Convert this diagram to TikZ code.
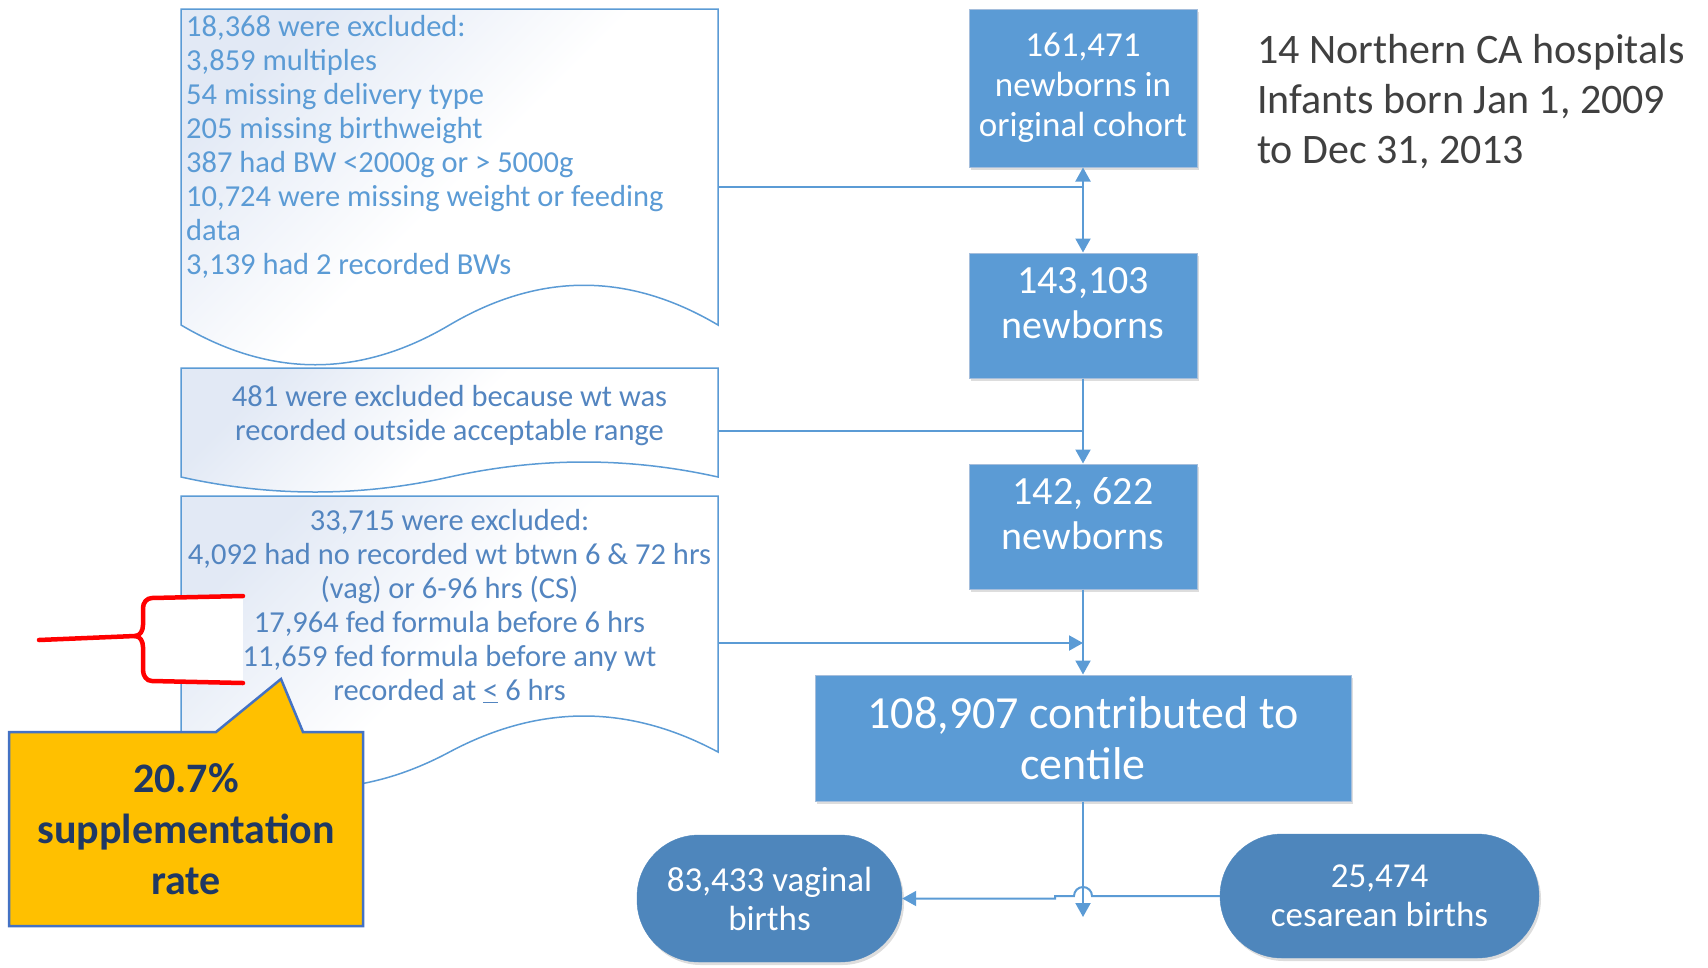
\documentclass[tikz,border=0pt]{standalone}
\usepackage{fontspec}
\setmainfont{Carlito}
\usetikzlibrary{arrows.meta,shadows}

\definecolor{flowblue}{RGB}{91,155,213}
\definecolor{flowedge}{RGB}{165,190,220}
\definecolor{doctext}{RGB}{83,133,192}
\definecolor{termblue}{RGB}{78,134,188}
\definecolor{calloutgold}{RGB}{255,192,0}
\definecolor{calloutedge}{RGB}{68,114,196}
\definecolor{navy}{RGB}{31,56,100}
\definecolor{titlegray}{RGB}{64,64,64}
\definecolor{docshade}{RGB}{226,233,245}
\definecolor{bracered}{RGB}{255,0,0}

\tikzset{
  softshadow/.style={drop shadow={shadow xshift=2pt, shadow yshift=-3pt, opacity=0.22, fill=black!60}},
  stepbox/.style={rectangle, fill=flowblue, draw=flowedge, line width=1pt, inner sep=0pt,
    text=white, align=center, softshadow},
  termbox/.style={rectangle, rounded corners=62pt, fill=termblue, draw=termblue, inner sep=0pt,
    text=white, align=center, softshadow, font=\fontsize{35}{39}\selectfont},
  docshape/.style={draw=flowblue, line width=1.5pt, top color=docshade, bottom color=white,
    middle color=white, shading angle=45},
  docfont/.style={font=\fontsize{30.5}{34}\selectfont, inner sep=0pt},
  conn/.style={draw=flowblue, line width=2pt},
  arrowed/.style={-{Triangle[length=14pt,width=15pt]}},
  twoarrowed/.style={{Triangle[length=14pt,width=15pt]}-{Triangle[length=14pt,width=15pt]}},
}

\begin{document}
\begin{tikzpicture}[x=1pt,y=-1pt]
\useasboundingbox (0,0) rectangle (1708,967);

% exclusion documents (wavy bottom edge)
\path[docshape] (181,9) -- (718,9) -- (718,325)
  .. controls (628.5,272) and (539.5,272) .. (449.5,325)
  .. controls (360,378) and (270.5,378) .. (181,325) -- cycle;
\path[docshape] (181,368) -- (718,368) -- (718,477)
  .. controls (628.5,457) and (539.5,457) .. (449.5,477)
  .. controls (360,497) and (270.5,497) .. (181,477) -- cycle;
\path[docshape] (181,496) -- (718,496) -- (718,752)
  .. controls (628.5,704) and (539.5,704) .. (449.5,752)
  .. controls (360,800) and (270.5,800) .. (181,752) -- cycle;

\node[docfont, text=flowblue, anchor=north west, align=left] (d1t) at (186,15)
  {18,368 were excluded:\\3,859 multiples\\54 missing delivery type\\205 missing birthweight\\
   387 had BW <2000g or > 5000g\\10,724 were missing weight or feeding\\data\\3,139 had 2 recorded BWs};
\node[docfont, text=doctext, align=center] (d2t) at (449.5,416)
  {481 were excluded because wt was\\recorded outside acceptable range};
\node[docfont, text=doctext, align=center] (d3t) at (449.5,606)
  {33,715 were excluded:\\4,092 had no recorded wt btwn 6 \& 72 hrs\\(vag) or 6-96 hrs (CS)\\
   17,964 fed formula before 6 hrs\\11,659 fed formula before any wt\\recorded at \underline{<} 6 hrs};

% connection points on the documents
\coordinate (d1r) at (718,187);
\coordinate (d2r) at (718,431);
\coordinate (d3r) at (718,643);

% main flow boxes
\node[stepbox, minimum width=228pt, minimum height=158pt, font=\fontsize{35}{40}\selectfont] (b1) at (1083,88)
  {161,471\\newborns in\\original cohort};
\node[stepbox, minimum width=228pt, minimum height=125pt] (b2) at (1083,315.5) {};
\node[text=white, align=center, font=\fontsize{40}{45}\selectfont, inner sep=0pt] (b2t) at (1083,303) {143,103\\newborns};
\node[stepbox, minimum width=228pt, minimum height=125pt] (b3) at (1083,526.5) {};
\node[text=white, align=center, font=\fontsize{40}{45}\selectfont, inner sep=0pt] (b3t) at (1083,514) {142, 622\\newborns};
\node[stepbox, minimum width=536pt, minimum height=126pt, font=\fontsize{46}{51}\selectfont] (b4) at (1083,738)
  {108,907 contributed to\\centile};
\node[termbox, minimum width=265pt, minimum height=127pt] (b5) at (769.5,898.5) {83,433 vaginal\\births};
\node[termbox, minimum width=319pt, minimum height=124pt] (b6) at (1379.5,896) {25,474\\cesarean births};

% connectors
\draw[conn, twoarrowed] (b1.south) -- (b2.north);
\draw[conn] (d1r) -- (d1r -| b1.south);
\draw[conn, arrowed] (b2.south) -- (b3.north);
\draw[conn] (d2r) -- (d2r -| b2.south);
\draw[conn, arrowed] (b3.south) -- (b4.north);
\draw[conn, arrowed] (d3r) -- (d3r -| b3.south);
\coordinate (split) at (1083,917);
\draw[conn, arrowed] (b4.south) -- (split);
\draw[conn, arrowed] (b6.west) -- (1092,896) arc[start angle=0, end angle=180, radius=9pt]
  -- (1055,896) -- (1055,898.5) -- (b5.east);

% note
\node[anchor=north west, align=left, text=titlegray, font=\fontsize{42}{50}\selectfont, inner sep=0pt] (title)
  at (1257,34) {14 Northern CA hospitals\\Infants born Jan 1, 2009\\to Dec 31, 2013};

% red brace marking the two formula lines
\fill[white] (172,596) rectangle (243,683);
\draw[bracered, line width=4.5pt, line cap=round, line join=round]
  (243,596) -- (152,598) to[out=180,in=90] (143,608) -- (143,625) to[out=-90,in=0] (135,636) -- (39,640);
\draw[bracered, line width=4.5pt, line cap=round, line join=round]
  (135,636) to[out=0,in=90] (143,647) -- (143,670) to[out=-90,in=180] (152,681) -- (243,683);

% callout
\draw[fill=calloutgold, draw=calloutedge, line width=2.5pt, line join=miter]
  (9,732) -- (216,732) -- (281,679) -- (303,732) -- (363,732) -- (363,926) -- (9,926) -- cycle;
\node[align=center, text=navy, font=\bfseries\fontsize{42}{51}\selectfont, inner sep=0pt] (rate) at (186,829)
  {20.7\%\\supplementation\\rate};
\end{tikzpicture}
\end{document}
